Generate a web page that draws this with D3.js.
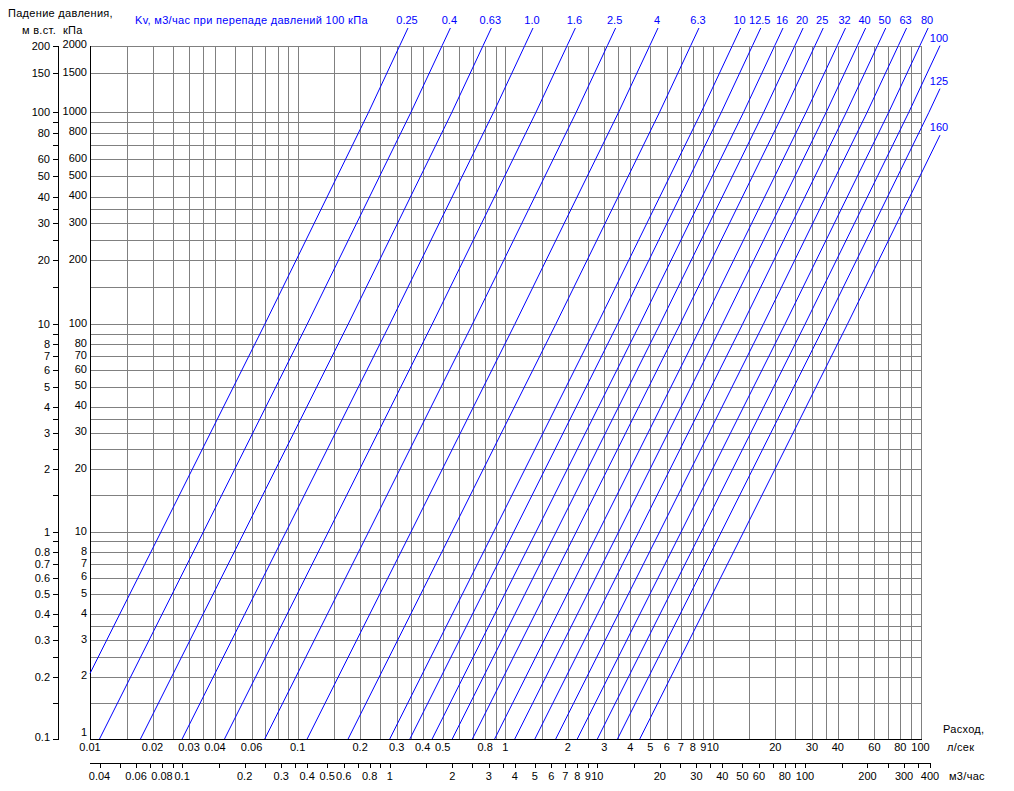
<!DOCTYPE html>
<html><head><meta charset="utf-8">
<script src="https://cdn.jsdelivr.net/npm/d3@7"></script>
<style>
body{margin:0;background:#fff;}
svg text{font-family:"Liberation Sans",Arial,sans-serif;font-size:11px;}
svg text.t{letter-spacing:0.3px;}
</style></head>
<body>
<svg id="c" width="1014" height="791"></svg>
<script>
// Kv values (m3/h at 100 kPa)
const kvValues = [0.25,0.4,0.63,1.0,1.6,2.5,4,6.3,10,12.5,16,20,25,32,40,50,63,80,100,125,160];
const kvLabels = ["0.25","0.4","0.63","1.0","1.6","2.5","4","6.3","10","12.5","16","20","25","32","40","50","63","80","100","125","160"];
// grid multipliers per decade
const gridMults = [1,1.5,2,2.5,3,3.5,4,5,6,7,8,9];
// left kPa labels
const kpaLabels = [2000,1500,1000,800,600,500,400,300,200,100,80,70,60,50,40,30,20,10,8,7,6,5,4,3,2,1];
// left m w.c. labels
const mLabels = [200,150,100,80,60,50,40,30,20,10,8,7,6,5,4,3,2,1,0.8,0.7,0.6,0.5,0.4,0.3,0.2,0.1];
// bottom l/s labels
const lsLabels = [0.01,0.02,0.03,0.04,0.06,0.1,0.2,0.3,0.4,0.5,0.8,1,2,3,4,5,6,7,8,9,10,20,30,40,60,80,100];
// bottom m3/h labels
const m3Labels = [0.04,0.06,0.08,0.1,0.2,0.3,0.4,0.5,0.6,0.8,1,2,3,4,5,6,7,8,9,10,20,30,40,50,60,80,100,200,300,400];

const svg = d3.select("#c");
const x = d3.scaleLog().domain([0.01,100]).range([90,920.5]);
const y = d3.scaleLog().domain([1,10,100,1000,2000]).range([739,532,324.3,112.3,45.5]);
const xM3 = v => x(v/3.6);
const X0 = 90, X1 = x(100), Y0 = y(1), Y1 = y(2000);
const fmt = v => String(v);

function decadeValues(decs, lo, hi){
  const out=[];
  decs.forEach(d=>gridMults.forEach(m=>{const v=+(m*d).toPrecision(6); if(v>=lo-1e-9 && v<=hi+1e-9) out.push(v);}));
  return Array.from(new Set(out)).sort((a,b)=>a-b);
}
const hGrid = decadeValues([1,10,100,1000],1,2000);
const vGrid = decadeValues([0.01,0.1,1,10,100],0.01,100);

const g = svg.append("g").attr("shape-rendering","crispEdges");
g.selectAll(".hg").data(hGrid).enter().append("line")
  .attr("x1",X0).attr("x2",X1).attr("y1",d=>Math.round(y(d))+0.5).attr("y2",d=>Math.round(y(d))+0.5)
  .attr("stroke","#808080").attr("stroke-width",1);
g.selectAll(".vg").data(vGrid).enter().append("line")
  .attr("y1",Y1).attr("y2",Y0).attr("x1",d=>Math.round(x(d))+0.5).attr("x2",d=>Math.round(x(d))+0.5)
  .attr("stroke","#808080").attr("stroke-width",1);
// frame left & bottom (black)
g.append("line").attr("x1",X0+0.5).attr("x2",X0+0.5).attr("y1",Math.round(Y1)).attr("y2",Y0+1).attr("stroke","#000");
g.append("line").attr("x1",X0).attr("x2",X1+1).attr("y1",Y0+0.5).attr("y2",Y0+0.5).attr("stroke","#000");

// Kv lines
const yTop = 28, xRight = 940;
const pTop = y.invert(yTop), qRight = x.invert(xRight);
const lineGen = d3.line().x(d=>x(d.q)).y(d=>y(d.p));
kvValues.forEach((kv,i)=>{
  const qOf = p => kv*Math.sqrt(p/100)/3.6; // l/s
  const pOf = q => 100*Math.pow(q*3.6/kv,2);
  let pStart = Math.max(1, pOf(0.01));
  let pEnd = pTop;
  if (qOf(pEnd) > qRight) pEnd = pOf(qRight);
  const ps = [pStart,10,100,1000,2000,pEnd].filter(p=>p>=pStart && p<=pEnd).sort((a,b)=>a-b);
  const pts = ps.map(p=>({p:p,q:qOf(p)}));
  svg.append("path").attr("d",lineGen(pts)).attr("fill","none").attr("stroke","#0000ff").attr("stroke-width",1);
  const e = pts[pts.length-1];
  svg.append("text").attr("x",x(e.q)-1).attr("y",y(e.p)-4).attr("text-anchor","middle")
    .attr("fill","#0000ff").text(kvLabels[i]);
});

// left kPa labels
svg.selectAll(".kl").data(kpaLabels).enter().append("text")
  .attr("x",87).attr("y",d=>y(d)+2.5 - (d===1?6:0)).attr("text-anchor","end").text(fmt);
// left m w.c. axis
const mTicks = decadeValues([0.1,1,10,100],0.1,200);
g.append("line").attr("x1",58.5).attr("x2",58.5).attr("y1",Math.round(Y1)).attr("y2",Y0+1).attr("stroke","#000");
g.selectAll(".mt").data(mTicks).enter().append("line")
  .attr("x1",53).attr("x2",58).attr("y1",d=>Math.round(y(d*10))+0.5).attr("y2",d=>Math.round(y(d*10))+0.5).attr("stroke","#000");
svg.selectAll(".ml").data(mLabels).enter().append("text")
  .attr("x",50).attr("y",d=>y(d*10)+4 - (d===0.1?2:0)).attr("text-anchor","end").text(fmt);

// bottom l/s labels
svg.selectAll(".ll").data(lsLabels).enter().append("text")
  .attr("x",d=>x(d)).attr("y",751).attr("text-anchor","middle").text(fmt);

// bottom m3/h axis
const m3Ticks = decadeValues([0.01,0.1,1,10,100],0.04,400);
g.append("line").attr("x1",X0).attr("x2",xM3(400)+1).attr("y1",763.5).attr("y2",763.5).attr("stroke","#000");
g.selectAll(".m3t").data(m3Ticks).enter().append("line")
  .attr("x1",d=>Math.round(xM3(d))+0.5).attr("x2",d=>Math.round(xM3(d))+0.5).attr("y1",763).attr("y2",768).attr("stroke","#000");
svg.selectAll(".m3l").data(m3Labels).enter().append("text")
  .attr("x",d=>xM3(d)).attr("y",780).attr("text-anchor","middle").text(fmt);

// titles
svg.append("text").attr("class","t").attr("x",8).attr("y",17).text("Падение давления,");
svg.append("text").attr("class","t").attr("x",22).attr("y",34).text("м в.ст.");
svg.append("text").attr("class","t").attr("x",63).attr("y",34).text("кПа");
svg.append("text").attr("class","t").attr("x",135).attr("y",24).attr("fill","#0000ff").text("Kv, м3/час при перепаде давлений 100 кПа");
svg.append("text").attr("class","t").attr("x",943).attr("y",733).text("Расход,");
svg.append("text").attr("class","t").attr("x",947).attr("y",751).text("л/сек");
svg.append("text").attr("class","t").attr("x",949).attr("y",780).text("м3/час");
</script>
</body></html>
